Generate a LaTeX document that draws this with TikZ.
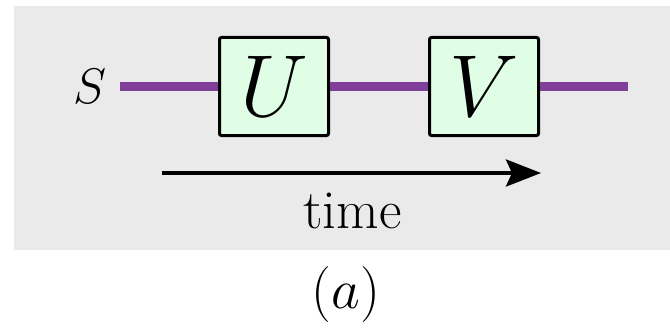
\RequirePackage{fix-cm}
\documentclass[tikz,border=0pt]{standalone}
\usetikzlibrary{arrows.meta}
\definecolor{bggray}{RGB}{234,234,234}
\definecolor{wirepurple}{RGB}{127,63,152}
\definecolor{gatefill}{RGB}{224,254,230}
\tikzset{
  gate/.style={draw=black, line width=3pt, fill=gatefill, rounded corners=2pt,
    minimum width=109pt, minimum height=98pt, inner sep=0pt,
    font=\fontsize{88}{88}\selectfont},
  wire/.style={draw=wirepurple, line width=9pt},
  timearrow/.style={draw=black, line width=4pt, -{Stealth[length=35pt,width=27pt,inset=6pt]}},
  lbl/.style={inner sep=0pt, anchor=base}
}
\begin{document}
\begin{tikzpicture}[x=1pt,y=-1pt]
\useasboundingbox (0,0) rectangle (670,329);
\fill[bggray] (14,6) rectangle (670,250);
\node[lbl, font=\fontsize{50}{50}\selectfont] (S) at (90,103) {$S$};
\coordinate (wstart) at (120,86.5);
\coordinate (wend) at (628,86.5);
\node[gate] (U) at (274,86.5) {$U$};
\node[gate] (V) at (484,86.5) {$V$};
\draw[wire] (wstart) -- (U.west);
\draw[wire] (U.east) -- (V.west);
\draw[wire] (V.east) -- (wend);
\coordinate (tstart) at (162,173);
\coordinate (tend) at (541,173);
\draw[timearrow] (tstart) -- (tend);
\node[lbl, font=\fontsize{55}{55}\selectfont] (time) at (352.5,228) {time};
\node[lbl, font=\fontsize{56}{56}\selectfont] (cap) at (346,308) {$(a)$};
\end{tikzpicture}
\end{document}
